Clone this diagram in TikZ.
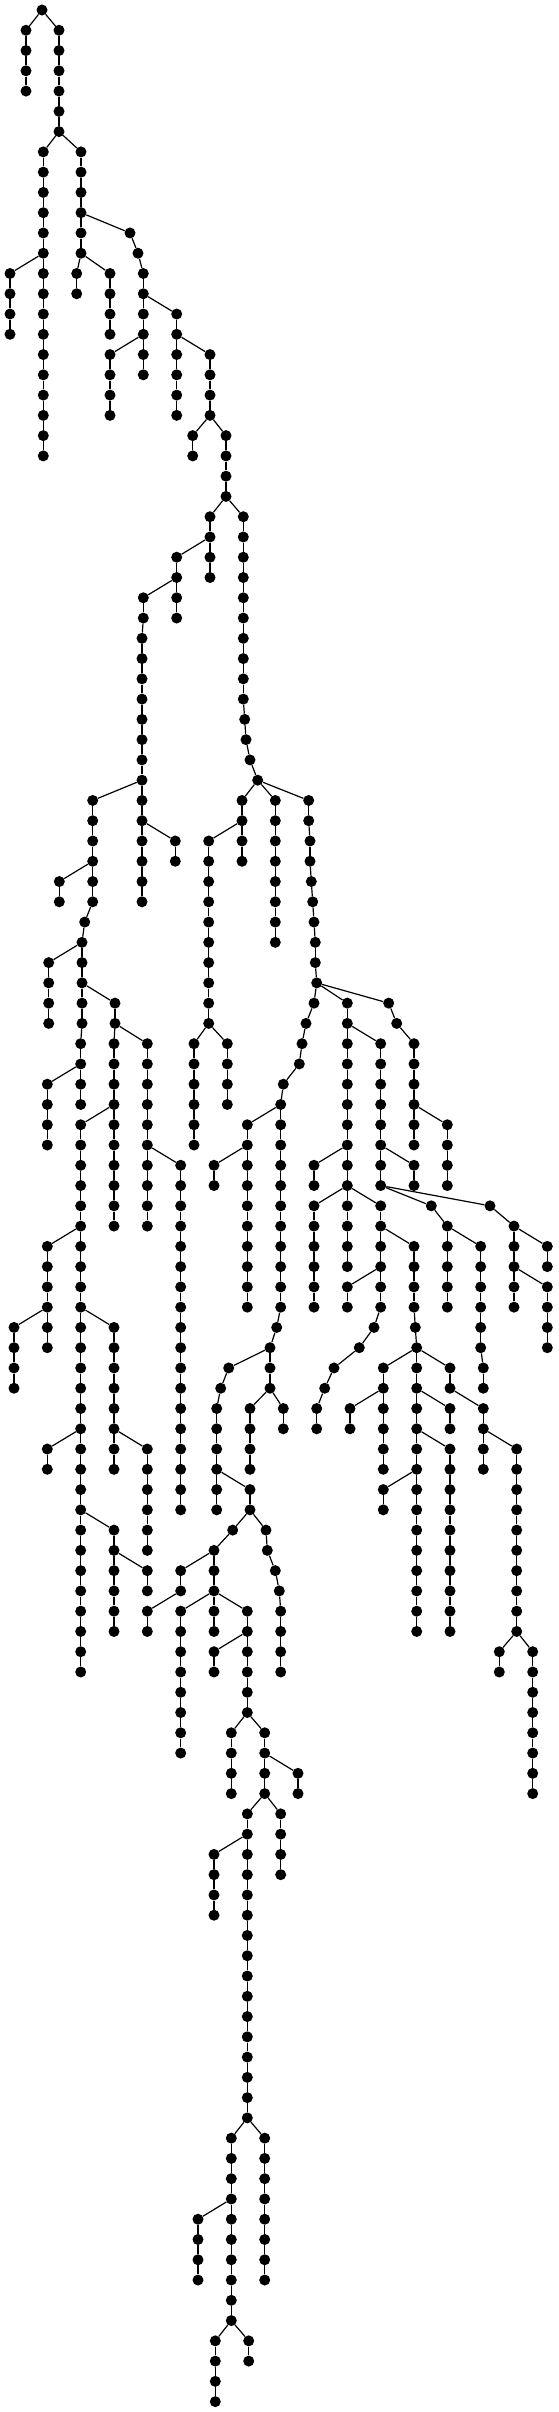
\documentclass[tikz,border=0pt]{standalone}
\tikzset{
  dot/.style={circle,fill=black,draw=none,inner sep=0pt,minimum size=11pt},
  edge/.style={draw=black,line width=1.2pt}
}
\newcommand{\tchain}[5]{\gdef\prevnode{#2}\foreach \lv in {#4,...,#5}{\node[dot] (#1-\lv) at (#3,{10+20.268*\lv}) {};\draw[edge] (\prevnode) -- (#1-\lv);\xdef\prevnode{#1-\lv}}}
\begin{document}
\begin{tikzpicture}[x=1pt,y=-1pt]
\useasboundingbox (0,0) rectangle (558,2412);
\node[dot] (r-0) at (42,10) {};
\tchain{a}{r-0}{26}{1}{4}
\tchain{b}{r-0}{59}{1}{6}
\tchain{c}{b-6}{43.3}{7}{22}
\tchain{d}{b-6}{81}{7}{12}
\tchain{e}{d-10}{130}{11}{11}
\tchain{e}{e-11}{138}{12}{12}
\tchain{e}{e-12}{143.3}{13}{18}
\tchain{f}{c-12}{10}{13}{16}
\tchain{g}{d-12}{76.7}{13}{14}
\tchain{h}{d-12}{110}{13}{16}
\tchain{i}{e-14}{176.7}{15}{20}
\tchain{j}{e-16}{110}{17}{20}
\tchain{k}{i-16}{210}{17}{20}
\tchain{m}{k-20}{192.7}{21}{22}
\tchain{n}{k-20}{226}{21}{24}
\tchain{o}{n-24}{210}{25}{28}
\tchain{p}{n-24}{243.3}{25}{34}
\tchain{p}{p-34}{244.7}{35}{35}
\tchain{p}{p-35}{246}{36}{36}
\tchain{p}{p-36}{250}{37}{37}
\tchain{p}{p-37}{257.7}{38}{38}
\tchain{q}{o-26}{176.7}{27}{30}
\tchain{ra}{q-28}{143.3}{29}{30}
\tchain{ra}{ra-30}{142}{31}{44}
\tchain{sb}{ra-38}{92.7}{39}{44}
\tchain{sb}{sb-44}{84.7}{45}{45}
\tchain{sb}{sb-45}{82}{46}{50}
\tchain{sb}{sb-50}{80.7}{51}{54}
\tchain{t}{ra-40}{175.3}{41}{42}
\tchain{u}{sb-42}{59.3}{43}{44}
\tchain{v}{sb-46}{48.7}{47}{50}
\tchain{w}{sb-48}{115}{49}{50}
\tchain{w}{w-50}{114}{51}{60}
\tchain{cc}{w-50}{147.3}{51}{60}
\tchain{dd}{w-54}{80.7}{55}{82}
\tchain{ee}{cc-56}{180.7}{57}{74}
\tchain{bb}{sb-52}{47.3}{53}{56}
\tchain{x}{p-38}{242}{39}{42}
\tchain{y}{p-38}{275.3}{39}{46}
\tchain{z}{p-38}{308.7}{39}{40}
\tchain{z}{z-40}{310}{41}{42}
\tchain{z}{z-42}{311.3}{43}{43}
\tchain{z}{z-43}{312.7}{44}{44}
\tchain{z}{z-44}{314}{45}{45}
\tchain{z}{z-45}{315.3}{46}{47}
\tchain{z}{z-47}{316.7}{48}{48}
\tchain{aa}{x-40}{208.7}{41}{50}
\tchain{ff}{aa-50}{194}{51}{56}
\tchain{gg}{aa-50}{227.3}{51}{54}
\tchain{jj}{z-48}{314}{49}{49}
\tchain{jj}{jj-49}{306}{50}{50}
\tchain{jj}{jj-50}{302}{51}{51}
\tchain{jj}{jj-51}{299.3}{52}{52}
\tchain{jj}{jj-52}{283.3}{53}{53}
\tchain{jj}{jj-53}{280.7}{54}{64}
\tchain{jj}{jj-64}{276.7}{65}{65}
\tchain{jj}{jj-65}{270}{66}{68}
\tchain{hh}{jj-54}{247.3}{55}{64}
\tchain{ii}{hh-56}{214}{57}{58}
\tchain{kk}{z-48}{347.3}{49}{62}
\tchain{ll}{kk-50}{380.7}{51}{58}
\tchain{mm}{kk-56}{314}{57}{58}
\tchain{nn}{kk-58}{314}{59}{64}
\tchain{oo}{kk-58}{380.7}{59}{64}
\tchain{oo}{oo-64}{374}{65}{65}
\tchain{oo}{oo-65}{359.3}{66}{66}
\tchain{oo}{oo-66}{334}{67}{67}
\tchain{oo}{oo-67}{324.7}{68}{68}
\tchain{oo}{oo-68}{316.7}{69}{70}
\tchain{pp}{ll-56}{414}{57}{58}
\tchain{qq}{ll-58}{431.3}{59}{59}
\tchain{qq}{qq-59}{447.3}{60}{64}
\tchain{rr}{ll-58}{490}{59}{59}
\tchain{rr}{rr-59}{514}{60}{64}
\tchain{ss}{z-48}{388.7}{49}{49}
\tchain{ss}{ss-49}{396.7}{50}{50}
\tchain{ss}{ss-50}{414}{51}{56}
\tchain{tt}{ss-54}{447.3}{55}{58}
\tchain{uu}{dd-60}{47.3}{61}{66}
\tchain{vv}{uu-64}{14}{65}{68}
\tchain{ww}{dd-64}{114}{65}{72}
\tchain{xx}{ww-70}{147.3}{71}{76}
\tchain{yy}{dd-70}{47.3}{71}{72}
\tchain{zz}{jj-66}{228.7}{67}{67}
\tchain{zz}{zz-67}{220.7}{68}{68}
\tchain{zz}{zz-68}{216.7}{69}{74}
\tchain{aone}{jj-68}{250}{69}{72}
\tchain{atwo}{jj-68}{283.3}{69}{70}
\tchain{bone}{oo-62}{347.3}{63}{64}
\tchain{cone}{oo-60}{414}{61}{64}
\tchain{cone}{cone-64}{415.3}{65}{65}
\tchain{cone}{cone-65}{416.7}{66}{66}
\tchain{done}{cone-66}{383.3}{67}{72}
\tchain{eone}{cone-66}{416.7}{67}{80}
\tchain{fone}{cone-66}{450}{67}{68}
\tchain{gone}{done-68}{350}{69}{70}
\tchain{hone}{eone-68}{450}{69}{70}
\tchain{ione}{eone-70}{450}{71}{80}
\tchain{jone}{fone-68}{483.3}{69}{72}
\tchain{kone}{jone-70}{516.7}{71}{80}
\tchain{lone}{qq-60}{480.7}{61}{66}
\tchain{lone}{lone-66}{483.3}{67}{68}
\tchain{mzero}{rr-60}{547.3}{61}{62}
\tchain{mone}{rr-62}{547.3}{63}{66}
\tchain{none}{dd-74}{114}{75}{80}
\tchain{oone}{none-76}{147.3}{77}{78}
\tchain{pone}{zz-72}{250}{73}{74}
\tchain{qone}{pone-74}{232.7}{75}{75}
\tchain{qone}{qone-75}{214}{76}{78}
\tchain{rone}{pone-74}{266}{75}{75}
\tchain{rone}{rone-75}{267.3}{76}{76}
\tchain{rone}{rone-76}{275.3}{77}{77}
\tchain{rone}{rone-77}{279.3}{78}{78}
\tchain{rone}{rone-78}{280.7}{79}{82}
\tchain{sone}{qone-76}{180.7}{77}{78}
\tchain{tone}{sone-78}{147.3}{79}{80}
\tchain{uone}{qone-78}{180.7}{79}{86}
\tchain{vone}{qone-78}{214}{79}{80}
\tchain{wone}{qone-78}{247.3}{79}{84}
\tchain{xone}{wone-80}{214}{81}{82}
\tchain{yone}{eone-72}{383.3}{73}{74}
\tchain{zone}{kone-80}{499.3}{81}{82}
\tchain{athree}{kone-80}{532.7}{81}{88}
\tchain{bthree}{wone-84}{231.3}{85}{88}
\tchain{cthree}{wone-84}{264.7}{85}{88}
\tchain{dthree}{cthree-86}{298}{87}{88}
\tchain{ethree}{cthree-88}{247.3}{89}{104}
\tchain{fthree}{ethree-90}{214}{91}{94}
\tchain{gthree}{cthree-88}{280.7}{89}{92}
\tchain{hthree}{ethree-104}{231.3}{105}{114}
\tchain{ithree}{hthree-108}{198}{109}{112}
\tchain{jthree}{hthree-114}{215.3}{115}{118}
\tchain{kthree}{hthree-114}{248.7}{115}{116}
\tchain{lthree}{ethree-104}{264.7}{105}{112}
\end{tikzpicture}
\end{document}
